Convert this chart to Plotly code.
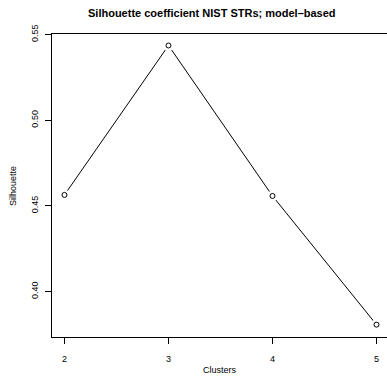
import plotly.graph_objects as go

clusters = [2, 3, 4, 5]
silhouette = [0.4564, 0.5436, 0.4558, 0.3807]
x_ticks = [2, 3, 4, 5]
y_ticks = [0.40, 0.45, 0.50, 0.55]
y_tick_labels = ["0.40", "0.45", "0.50", "0.55"]

title = "Silhouette coefficient NIST STRs; model\u2013based"
font_family = "Liberation Sans, Arial, sans-serif"

fig = go.Figure()
fig.add_trace(go.Scatter(x=clusters, y=silhouette, mode="lines",
                         line=dict(color="black", width=1), hoverinfo="skip"))
fig.add_trace(go.Scatter(x=clusters, y=silhouette, mode="markers",
                         marker=dict(size=11, color="white", line=dict(width=0)),
                         hoverinfo="skip"))
fig.add_trace(go.Scatter(x=clusters, y=silhouette, mode="markers",
                         marker=dict(size=5, color="white", symbol="circle",
                                     line=dict(color="black", width=1))))

fig.update_layout(
    width=387, height=382,
    margin=dict(l=52, r=0, t=34, b=45),
    paper_bgcolor="white", plot_bgcolor="white",
    showlegend=False,
    font=dict(family=font_family, color="black", size=9),
    xaxis=dict(range=[1.88, 5.101], tickmode="array", tickvals=x_ticks,
               ticktext=[str(v) for v in x_ticks],
               showgrid=False, zeroline=False, showline=True, linecolor="black",
               linewidth=1, mirror=True, ticks="outside", ticklen=6,
               tickcolor="black", tickfont=dict(size=9), ticklabelstandoff=7),
    yaxis=dict(range=[0.3735, 0.5503], tickmode="array", tickvals=y_ticks,
               ticktext=y_tick_labels, tickangle=-90,
               showgrid=False, zeroline=False, showline=True, linecolor="black",
               linewidth=1, ticks="outside", ticklen=6, tickcolor="black",
               tickfont=dict(size=9), ticklabelstandoff=3),
    annotations=[
        dict(text="<b>" + title + "</b>", x=212, y=13, showarrow=False,
             font=dict(size=11)),
        dict(text="Clusters", x=220, y=370, showarrow=False, font=dict(size=9)),
        dict(text="Silhouette", x=13, y=186, textangle=-90, showarrow=False,
             font=dict(size=9)),
    ],
)

# convert pixel-based annotation positions to paper coordinates
W, H = 387, 382
l, r, t, b = 52, 0, 34, 45
pw, ph = W - l - r, H - t - b
for a in fig.layout.annotations:
    px, py = a.x, a.y
    a.x = (px - l) / pw
    a.y = (H - b - py) / ph
    a.xref = "paper"
    a.yref = "paper"
    a.xanchor = "center"
    a.yanchor = "middle"
fig.write_html("out.html")
